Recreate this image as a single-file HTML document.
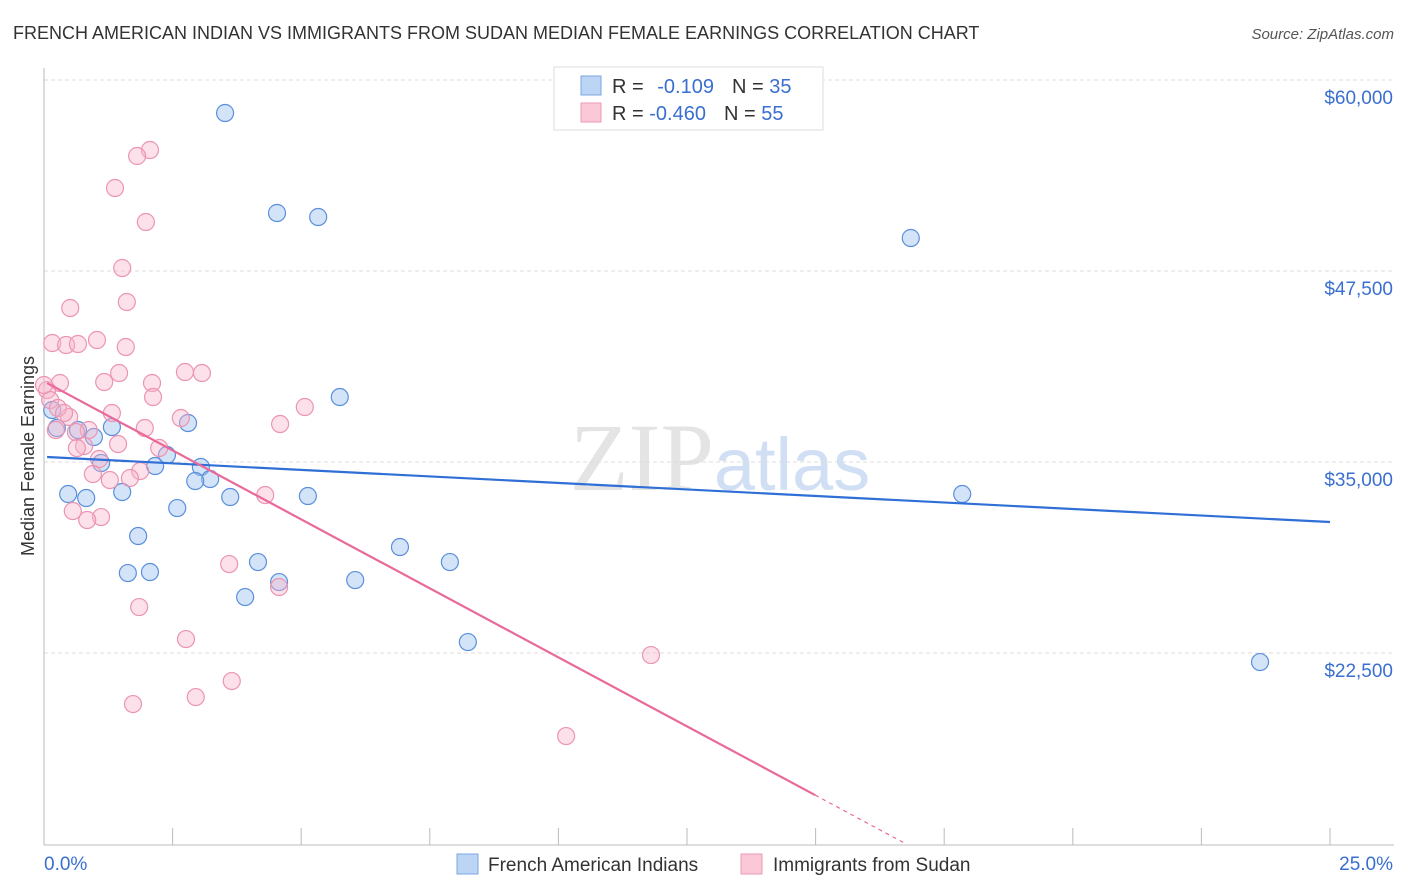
<!DOCTYPE html>
<html><head><meta charset="utf-8"><style>
body{margin:0;background:#fff;font-family:"Liberation Sans",sans-serif;}
svg{display:block}
</style></head><body>
<svg id="chart" width="1406" height="892" xmlns="http://www.w3.org/2000/svg" font-family="Liberation Sans, sans-serif">
<text x="13" y="39" font-size="18" fill="#333">FRENCH AMERICAN INDIAN VS IMMIGRANTS FROM SUDAN MEDIAN FEMALE EARNINGS CORRELATION CHART</text>
<text x="1394" y="39" font-size="15" fill="#555" font-style="italic" text-anchor="end">Source: ZipAtlas.com</text>
<text x="720" y="490" font-size="96" fill="#e4e4e4" text-anchor="middle" font-family="Liberation Serif, serif">ZIP<tspan fill="#d0dff3" font-family="Liberation Sans, sans-serif" font-size="74">atlas</tspan></text>
<text transform="translate(34,456) rotate(-90)" font-size="18" fill="#333" text-anchor="middle">Median Female Earnings</text>
<g id="grid"></g><g id="marks"></g>
<g>
<rect x="554" y="67" width="269" height="63" fill="#fff" stroke="#ddd"/>
<rect x="581" y="76" width="20" height="19" fill="#bcd5f5" stroke="#7aa6e0"/>
<rect x="581" y="103" width="20" height="19" fill="#fbc8d8" stroke="#ec9ab5"/>
<text x="612" y="93" font-size="20" fill="#333">R = <tspan fill="#3a6fd0" dx="8">-0.109</tspan><tspan dx="18" fill="#333">N = </tspan><tspan fill="#3a6fd0">35</tspan></text>
<text x="612" y="120" font-size="20" fill="#333">R = <tspan fill="#3a6fd0">-0.460</tspan><tspan dx="18" fill="#333">N = </tspan><tspan fill="#3a6fd0">55</tspan></text>
</g>
<g>
<rect x="457" y="854" width="21" height="20" fill="#bcd5f5" stroke="#7aa6e0"/>
<text x="488" y="871" font-size="19" fill="#333">French American Indians</text>
<rect x="741" y="854" width="21" height="20" fill="#fbc8d8" stroke="#ec9ab5"/>
<text x="773" y="871" font-size="19" fill="#333">Immigrants from Sudan</text>
</g>
</svg>
<script>
const xTicks=[0,2.5,5,7.5,10,12.5,15,17.5,20,22.5,25];
const yTicks=[22500,35000,47500,60000];
const yTickLabels=["$22,500","$35,000","$47,500","$60,000"];
const blueX=[3.52,4.53,5.33,16.85,5.75,2.80,1.32,0.97,0.66,0.25,1.11,2.16,2.39,3.05,3.23,2.94,0.47,0.82,1.52,3.62,5.13,17.85,2.59,1.83,6.92,7.89,4.16,1.63,2.06,4.57,6.05,3.91,8.24,23.64,0.16];
const blueY=[57840,51295,51033,49659,39252,37551,37289,36634,37092,37223,34933,34736,35456,34671,33885,33755,32904,32642,33035,32707,32773,32904,31987,30155,29435,28453,28453,27733,27799,27144,27275,26162,23217,21908,38401];
const pinkX=[2.06,1.81,1.38,1.98,1.52,1.61,0.51,1.03,0.16,0.43,0.66,1.59,1.46,2.74,3.07,1.17,2.10,0.31,0.06,2.12,5.07,1.32,0.49,2.66,0.23,4.59,1.96,0.87,0.62,1.44,2.24,0.78,0.64,1.07,1.87,0.95,1.67,1.28,4.30,0.56,1.11,0.84,3.60,4.57,1.85,2.76,11.80,3.65,2.95,1.73,10.15,0.12,0.27,0.0,0.39];
const pinkY=[55418,55026,52931,50706,47695,45470,45077,42983,42787,42656,42721,42525,40823,40889,40823,40234,40169,40169,39710,39252,38598,38205,37943,37878,37092,37485,37223,37092,36962,36176,35914,36045,35914,35194,34409,34213,33951,33820,32838,31791,31398,31202,28322,26817,25508,23413,22366,20665,19617,19159,17065,39056,38532,40038,38205];
const blueTrend=[[0.06,35325],[25,31071]];
const pinkTrend=[[0.06,40168],[14.99,13203]];
const pinkDash=[[14.99,13203],[16.76,10000]];

const X0=44,X1=1330,YB=845;
const sx=v=>X0+(v/25)*(X1-X0);
const sy=v=>80+(60000-v)/12500*191;
const NS="http://www.w3.org/2000/svg";
function mk(tag,attrs,parent){const e=document.createElementNS(NS,tag);for(const k in attrs)e.setAttribute(k,attrs[k]);parent.appendChild(e);return e;}
const grid=document.getElementById('grid'),marks=document.getElementById('marks');
yTicks.forEach((t,i)=>{
  const g=mk('line',{x1:X0,x2:1394,y1:sy(t),y2:sy(t),stroke:'#ddd','stroke-dasharray':'4,3'},grid);
  
  
  const tx=mk('text',{x:1393,y:sy(t)+24,'font-size':19,fill:'#3a6fd0','text-anchor':'end'},grid);
  tx.textContent=yTickLabels[i];
  
  
});
const ax=mk('line',{x1:X0,x2:X0,y1:68,y2:YB,stroke:'#bbb'},grid);


const bx=mk('line',{x1:X0,x2:1394,y1:YB,y2:YB,stroke:'#bbb'},grid);


xTicks.forEach(t=>{
  const l=mk('line',{x1:sx(t),x2:sx(t),y1:828,y2:YB,stroke:'#bbb'},grid);
  
  
});
const xl0=mk('text',{x:44,y:870,'font-size':19,fill:'#3a6fd0'},grid);xl0.textContent='0.0%';


const xl1=mk('text',{x:1393,y:870,'font-size':19,fill:'#3a6fd0','text-anchor':'end'},grid);xl1.textContent='25.0%';



blueX.forEach((v,i)=>{
  const c=mk('circle',{cx:sx(v),cy:sy(blueY[i]),r:8.5,fill:'rgba(160,195,240,0.45)',stroke:'#5b8fdc','stroke-width':1.2},marks);
  
  
});
pinkX.forEach((v,i)=>{
  const c=mk('circle',{cx:sx(v),cy:sy(pinkY[i]),r:8.5,fill:'rgba(248,180,202,0.4)',stroke:'#ec94b2','stroke-width':1.2},marks);
  
  
});
const bl=mk('line',{x1:sx(blueTrend[0][0]),y1:sy(blueTrend[0][1]),x2:sx(blueTrend[1][0]),y2:sy(blueTrend[1][1]),stroke:'#2f6fd6','stroke-width':2.2},marks);


const pl=mk('line',{x1:sx(pinkTrend[0][0]),y1:sy(pinkTrend[0][1]),x2:sx(pinkTrend[1][0]),y2:sy(pinkTrend[1][1]),stroke:'#e8699a','stroke-width':2.2},marks);


const pd=mk('line',{x1:sx(pinkDash[0][0]),y1:sy(pinkDash[0][1]),x2:sx(pinkDash[1][0]),y2:sy(pinkDash[1][1]),stroke:'#e8699a','stroke-width':1.2,'stroke-dasharray':'4,4'},marks);


</script>
</body></html>
